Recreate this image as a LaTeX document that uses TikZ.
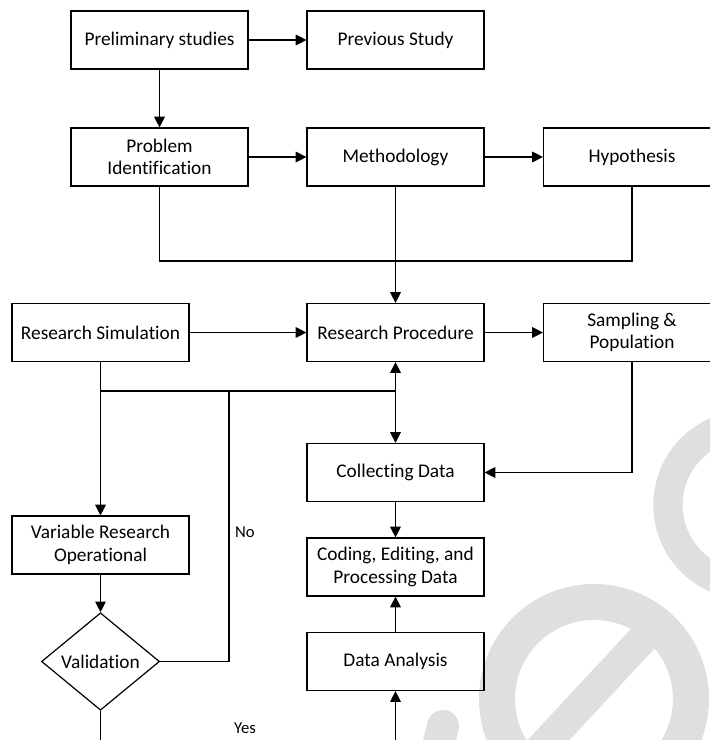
\documentclass[tikz,border=0pt]{standalone}
\usepackage{fontspec}
\setmainfont{Carlito}[Ligatures={NoCommon}]
\usetikzlibrary{arrows.meta,shapes.geometric}
\definecolor{markgray}{HTML}{DFDFDF}

\begin{document}
\begin{tikzpicture}[x=0.75pt,y=-0.75pt,
  box/.style={draw,line width=0.9pt,minimum width=132.75pt,minimum height=43.5pt,
    align=center,inner sep=2pt,font=\fontsize{14.5}{16.8}\selectfont},
  decision/.style={draw,diamond,line width=0.9pt,minimum width=88.5pt,minimum height=65.25pt,
    inner sep=1pt,font=\fontsize{14.5}{16.8}\selectfont},
  flow/.style={line width=0.9pt,-{Triangle[length=8pt,width=8pt]}},
  link/.style={line width=0.9pt},
  answer/.style={font=\fontsize{12.5}{15}\selectfont}]
\useasboundingbox (0,0) rectangle (710,740);

% Watermark in the background
\draw[markgray,line width=22pt] (748,505) circle[radius=80];
\draw[markgray,line width=27pt] (594,699) circle[radius=97];
\draw[markgray,line width=23pt] (662,618) -- (530,760);
\draw[markgray,line width=24pt,line cap=round] (443,726) -- (432,770);

% Create boxes
\node[box] at (159.5,40) (pre) {Preliminary studies};
\node[box] at (395.5,40) (prev) {Previous Study};
\node[box] at (159.5,157) (prob) {Problem\\Identification};
\node[box] at (395.5,157) (meth) {Methodology};
\node[box] at (632,157) (hyp) {Hypothesis};
\node[box] at (100.5,332.5) (sim) {Research Simulation};
\node[box] at (395.5,332.5) (proc) {Research Procedure};
\node[box] at (632,332.5) (samp) {Sampling \&\\Population};
\node[box] at (395.5,472.5) (coll) {Collecting Data};
\node[box] at (395.5,567) (code) {Coding, Editing, and\\Processing Data};
\node[box] at (395.5,661.5) (ana) {Data Analysis};
\node[box] at (100.5,545) (var) {Variable Research\\Operational};
\node[decision] at (100.5,661.5) (val) {Validation};

% Junctions
\coordinate (merge) at (395.5,261);
\coordinate (split) at (395.5,391);
\coordinate (back) at (229,391);
\coordinate (yesdown) at (100.5,780);
\coordinate (yesright) at (395.5,780);

% Top part
\draw[flow] (pre) -- (prev);
\draw[flow] (pre) -- (prob);
\draw[flow] (prob) -- (meth);
\draw[flow] (meth) -- (hyp);
\draw[link] (prob.south) |- (merge);
\draw[link] (hyp.south) |- (merge);
\draw[flow] (meth.south) -- (proc.north);

% Middle part
\draw[flow] (sim) -- (proc);
\draw[flow] (proc) -- (samp);
\draw[link] (sim.south) |- (split);
\draw[flow] (split) -- (proc.south);
\draw[flow] (split) -- (coll.north);
\draw[flow] (samp.south) |- (coll.east);

% Left branch
\draw[flow] (sim.south) -- (var.north);
\draw[flow] (var) -- (val);
\draw[link] (val.east) -| (back);

% Data branch
\draw[flow] (coll) -- (code);
\draw[flow] (ana) -- (code);
\draw[link] (val.south) -- (yesdown) -- (yesright);
\draw[flow] (yesright) -- (ana.south);

% Label answers
\node[answer] at (245,532) (no) {No};
\node[answer] at (245,728) (yes) {Yes};

\end{tikzpicture}
\end{document}
